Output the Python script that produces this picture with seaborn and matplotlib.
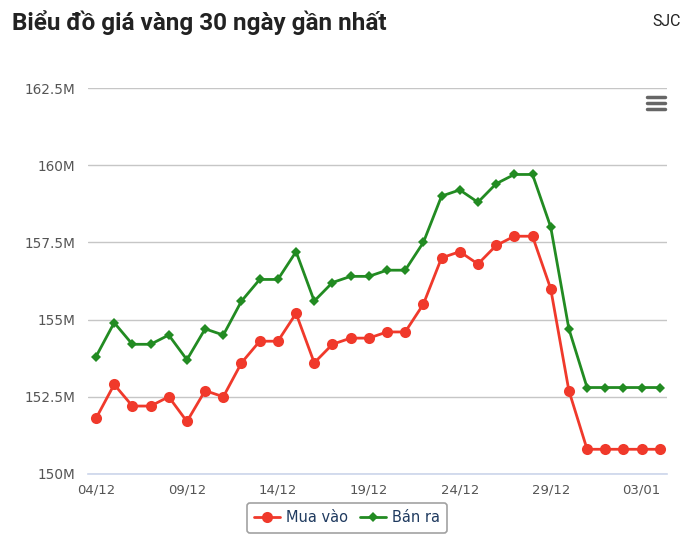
import pandas as pd
import matplotlib
matplotlib.use("Agg")
import matplotlib.pyplot as plt
import seaborn as sns
from matplotlib.lines import Line2D
from matplotlib.ticker import FuncFormatter, MultipleLocator

# Data (million VND), 04/12 -> 04/01
dates = ["04/12", "05/12", "06/12", "07/12", "08/12", "09/12", "10/12", "11/12",
         "12/12", "13/12", "14/12", "15/12", "16/12", "17/12", "18/12", "19/12",
         "20/12", "21/12", "22/12", "23/12", "24/12", "25/12", "26/12", "27/12",
         "28/12", "29/12", "30/12", "31/12", "01/01", "02/01", "03/01", "04/01"]
mua_vao = [151.8, 152.9, 152.2, 152.2, 152.5, 151.7, 152.7, 152.5,
           153.6, 154.3, 154.3, 155.2, 153.6, 154.2, 154.4, 154.4,
           154.6, 154.6, 155.5, 157.0, 157.2, 156.8, 157.4, 157.7,
           157.7, 156.0, 152.7, 150.8, 150.8, 150.8, 150.8, 150.8]
ban_ra = [153.8, 154.9, 154.2, 154.2, 154.5, 153.7, 154.7, 154.5,
          155.6, 156.3, 156.3, 157.2, 155.6, 156.2, 156.4, 156.4,
          156.6, 156.6, 157.5, 159.0, 159.2, 158.8, 159.4, 159.7,
          159.7, 158.0, 154.7, 152.8, 152.8, 152.8, 152.8, 152.8]

df = pd.DataFrame({"day": range(len(dates)), "date": dates,
                   "Mua vào": mua_vao, "Bán ra": ban_ra})

sns.set_style("white")
plt.rcParams["font.family"] = ["DejaVu Sans"]

fig = plt.figure(figsize=(7, 5.46), dpi=100)
ax = fig.add_axes([0.1257, 0.1319, 0.8273, 0.7069])

red = "#f0392b"
green = "#228b22"
sns.lineplot(data=df, x="day", y="Mua vào", ax=ax, color=red, lw=2,
             marker="o", markersize=8, markeredgewidth=0, label="Mua vào")
sns.lineplot(data=df, x="day", y="Bán ra", ax=ax, color=green, lw=2,
             marker="D", markersize=5.5, markeredgewidth=0, label="Bán ra")

ax.set_xlim(-0.44, 31.4)
ax.set_ylim(150, 162.5)
ax.yaxis.set_major_locator(MultipleLocator(2.5))
ax.yaxis.set_major_formatter(FuncFormatter(lambda v, p: f"{v:g}M"))
ax.set_xticks(df["day"][::5])
ax.set_xticklabels(df["date"][::5])
ax.set_xticks(df["day"], minor=True)
ax.set_xlabel("")
ax.set_ylabel("")

ax.grid(axis="y", color="#c6c6c6", lw=1)
ax.set_axisbelow(True)
for s in ["left", "right", "top"]:
    ax.spines[s].set_visible(False)
ax.spines["bottom"].set_color("#ccd6eb")
ax.spines["bottom"].set_linewidth(1.2)
ax.tick_params(axis="y", length=0, pad=9, labelsize=9.8, labelcolor="#555555")
ax.tick_params(axis="x", which="both", direction="out", length=6, width=1,
               color="#ccd6eb", labelsize=9.5, labelcolor="#555555", pad=1)

leg = ax.legend(loc="center", bbox_to_anchor=(347 / 700, 1 - 518 / 546),
                bbox_transform=fig.transFigure, ncol=2, frameon=True,
                fontsize=10.5, handlelength=1.8, columnspacing=0.8,
                handletextpad=0.4, borderpad=0.5, fancybox=True)
leg.get_frame().set_edgecolor("#8a8a8a")
leg.get_frame().set_linewidth(1.2)
for t in leg.get_texts():
    t.set_color("#1f3a5f")

fig.text(12 / 700, 1 - 23 / 546, "Biểu đồ giá vàng 30 ngày gần nhất",
         fontsize=17.5, fontweight="bold", family="Roboto", color="#222222",
         va="center", ha="left")
fig.text(681 / 700, 1 - 22 / 546, "SJC", fontsize=11.5, family="Roboto",
         color="#222222", va="center", ha="right")

# menu icon
for yy in [97, 103, 109]:
    fig.add_artist(Line2D([647 / 700, 665 / 700], [1 - yy / 546] * 2,
                          transform=fig.transFigure, color="#666666", lw=2.5,
                          solid_capstyle="round"))

fig.savefig("out.png", dpi=100)
